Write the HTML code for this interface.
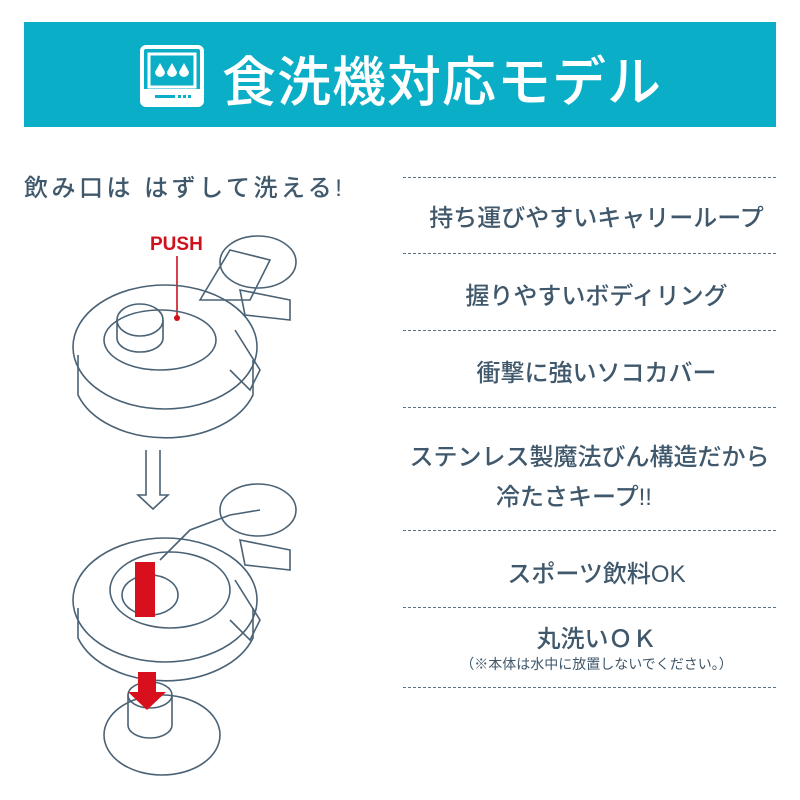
<!DOCTYPE html>
<html><head><meta charset="utf-8"><style>
body{margin:0;width:800px;height:800px;background:#fff;position:relative;overflow:hidden;font-family:"Liberation Sans","Noto Sans CJK JP",sans-serif;color:#40586b}
.banner{position:absolute;left:24px;top:22px;width:752px;height:105px;background:#0aaec6}
.title{position:absolute;left:198px;top:16px;font-size:54px;color:#fff;font-weight:500;letter-spacing:1px;white-space:nowrap}
.dl{position:absolute;left:403px;width:373px;border-top:1.5px dashed #5d7282}
.t{position:absolute;left:410px;width:373px;text-align:center;font-size:24px;font-weight:500;white-space:nowrap}
.sub{position:absolute;left:24px;top:168px;font-size:24px;font-weight:500;letter-spacing:3.5px;white-space:nowrap}
</style></head><body>
<div class="banner">
<svg style="position:absolute;left:116px;top:23px" width="64" height="62" viewBox="0 0 64 62">
<rect x="2" y="2" width="60" height="58" rx="4" fill="none" stroke="#fff" stroke-width="4"/>
<rect x="9" y="9" width="46" height="33" fill="none" stroke="#fff" stroke-width="3"/>
<rect x="2" y="44" width="60" height="16" fill="#fff"/>
<rect x="15" y="50" width="20" height="3" fill="#0aaec6"/><rect x="38" y="50" width="3" height="3" fill="#0aaec6"/><rect x="43" y="50" width="3" height="3" fill="#0aaec6"/><rect x="48" y="50" width="3" height="3" fill="#0aaec6"/>
<path d="M20 18 l-5 9 a5 5 0 0 0 10 0z M32 18 l-5 9 a5 5 0 0 0 10 0z M44 18 l-5 9 a5 5 0 0 0 10 0z" fill="#fff"/>
</svg>
<div class="title">食洗機対応モデル</div>
</div>
<div class="sub">飲み口は はずして洗える!</div>
<div class="dl" style="top:177px"></div>
<div class="t" style="top:198px">持ち運びやすいキャリーループ</div>
<div class="dl" style="top:253px"></div>
<div class="t" style="top:276px">握りやすいボディリング</div>
<div class="dl" style="top:330px"></div>
<div class="t" style="top:353px">衝撃に強いソコカバー</div>
<div class="dl" style="top:407px"></div>
<div class="t" style="top:437px;left:403px;font-size:24px">ステンレス製魔法びん構造だから</div>
<div class="t" style="top:477px;left:454px;width:240px;font-size:24px">冷たさキープ!!</div>
<div class="dl" style="top:530px"></div>
<div class="t" style="top:554px">スポーツ飲料OK</div>
<div class="dl" style="top:607px"></div>
<div class="t" style="top:619px">丸洗いＯＫ</div>
<div class="t" style="top:654px;font-size:14px;font-weight:400">（※本体は水中に放置しないでください。）</div>
<div class="dl" style="top:687px"></div>
<svg style="position:absolute;left:0;top:0" width="400" height="800" fill="none" stroke="#4a6275" stroke-width="1.6">
<text x="150" y="250" fill="#d0101b" stroke="none" font-size="19" font-family="Liberation Sans Narrow,Liberation Sans,sans-serif" font-weight="bold">PUSH</text>
<line x1="177" y1="256" x2="177" y2="318" stroke="#d0101b"/><circle cx="177" cy="318" r="3" fill="#d0101b" stroke="none"/>
<ellipse cx="165" cy="347" rx="92" ry="62"/>
<path d="M78 355 v40 a92 62 0 0 0 175 0 v-35"/>
<ellipse cx="160" cy="340" rx="56" ry="30"/>
<ellipse cx="140" cy="320" rx="23" ry="16"/>
<path d="M117 320 v18 a23 14 0 0 0 46 0 v-18"/>
<path d="M200 300 l30 -50 l40 10 l-20 40 z"/>
<ellipse cx="258" cy="262" rx="38" ry="26"/>
<path d="M240 290 l50 10 v20 l-45 -5z"/>
<path d="M235 330 l25 40 l-10 20 l-20 -20"/>
<path d="M146 450 v45 h-8 l15 14 l15 -14 h-8 v-45"/>
<ellipse cx="165" cy="600" rx="92" ry="62"/>
<path d="M78 608 v30 a92 62 0 0 0 175 0 v-30"/>
<ellipse cx="170" cy="590" rx="60" ry="38"/>
<ellipse cx="150" cy="595" rx="28" ry="20"/>
<path d="M160 560 l30 -30 l40 -15 l30 -5"/>
<ellipse cx="258" cy="510" rx="38" ry="26"/>
<path d="M240 540 l50 10 v20 l-45 -5z"/>
<path d="M235 580 l25 40 l-10 20 l-20 -20"/>
<ellipse cx="162" cy="735" rx="58" ry="40"/>
<ellipse cx="150" cy="695" rx="22" ry="13"/>
<path d="M128 695 v30 a22 13 0 0 0 44 0 v-30"/>
<path d="M135 562 h20 v55 h-20z" fill="#d8101d" stroke="none"/>
<path d="M138 672 h18 v20 h10 l-19 18 l-19 -18 h10z" fill="#d8101d" stroke="none"/>
</svg>
</body></html>
